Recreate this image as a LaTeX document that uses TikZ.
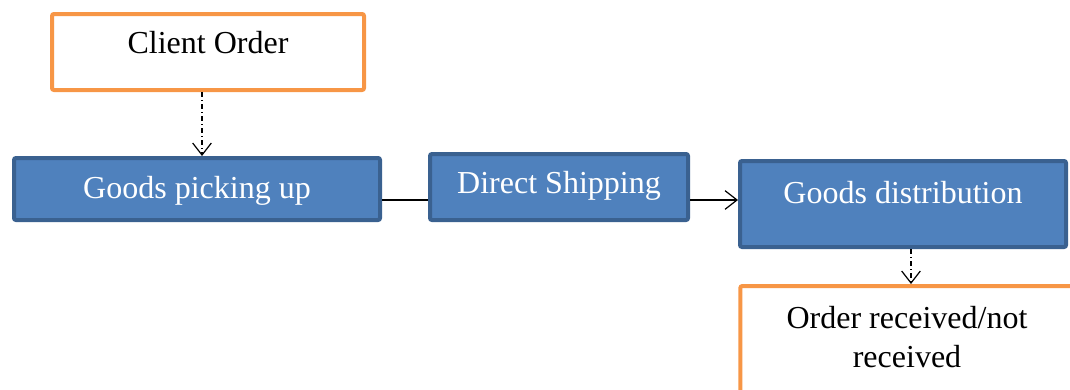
\documentclass[tikz,border=0pt]{standalone}
\usepackage{fontspec}
\setmainfont{Liberation Serif}
\usetikzlibrary{arrows.meta}
\definecolor{stepblue}{HTML}{4F81BD}
\definecolor{stepedge}{HTML}{3A6190}
\definecolor{orderorange}{HTML}{F79646}

\begin{document}
\begin{tikzpicture}[x=0.75pt,y=-0.75pt,
    every node/.style={inner sep=0pt,rounded corners=1.5pt,font=\fontsize{24}{29.25}\selectfont},
    stepbox/.style={draw=stepedge,line width=3pt,fill=stepblue,text=white},
    orderbox/.style={draw=orderorange,line width=3pt,fill=white},
    flow/.style={-{Straight Barb[length=9pt,width=14pt]},line width=0.9pt},
    dashflow/.style={flow,dash pattern=on 4pt off 2pt on 1pt off 2pt}]
  \path[use as bounding box,clip] (0,0) rectangle (1070,389);
  \node[orderbox,minimum width=234pt,text height=29.25pt,text depth=27.75pt] (order) at (208,52) {Client Order};
  \node[stepbox,minimum width=274.5pt,text height=30pt,text depth=16.5pt] (pick) at (197,189) {Goods picking up};
  \node[stepbox,minimum width=193.5pt,text height=29.25pt,text depth=20.25pt] (ship) at (559,187) {Direct Shipping};
  \node[stepbox,minimum width=244.5pt,text height=31.5pt,text depth=33pt] (dist) at (903,204) {Goods distribution};
  \node[orderbox,anchor=north,minimum width=250pt,text height=31.5pt,text depth=67.5pt] (recv) at (907,284)
    {\parbox[t]{240pt}{\centering Order received/not\\received}};
  \draw[dashflow] (order.south -| 202,0) -- (pick.north -| 202,0);
  \draw[line width=0.9pt] (pick.east |- 0,200) -- (ship.west |- 0,200);
  \draw[flow] (ship.east |- 0,200) -- (dist.west |- 0,200);
  \draw[dashflow] (dist.south -| 911,0) -- (recv.north -| 911,0);
\end{tikzpicture}
\end{document}
